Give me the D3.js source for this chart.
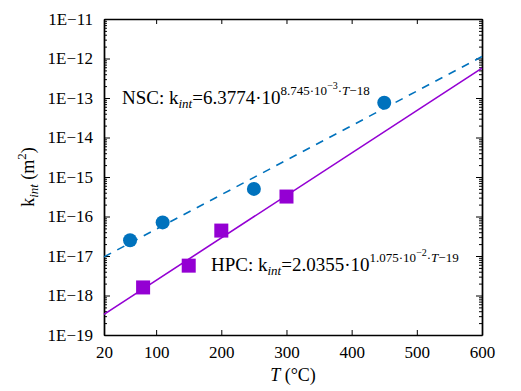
<!DOCTYPE html>
<html>
<head>
<meta charset="utf-8">
<script src="https://cdn.jsdelivr.net/npm/d3@7"></script>
<style>
  body { margin: 0; background: #fff; }
  text { font-family: "Liberation Serif", "DejaVu Serif", serif; fill: #000; }
</style>
</head>
<body>
<div id="chart"></div>
<script>
// Data
var nscTemp = [60, 110, 250, 450];
var nscPerm = [2.5e-17, 7.1e-17, 5.0e-16, 7.6e-14];
var hpcTemp = [80, 150, 200, 300];
var hpcPerm = [1.6e-18, 5.7e-18, 4.4e-17, 3.2e-16];

// fitted lines, end points at T = 20 and T = 600
var fitTemp = [20, 600];
var nscFit = [9.5e-18, 1.12e-12];
var hpcFit = [3.34e-19, 5.7e-13];

var xTicks = [20, 100, 200, 300, 400, 500, 600];
var yTicks = [1e-19, 1e-18, 1e-17, 1e-16, 1e-15, 1e-14, 1e-13, 1e-12, 1e-11];

var svgWidth = 521;
var svgHeight = 391;

var margin = { top: 19, bottom: 56, left: 104, right: 39 };
var width = svgWidth - margin.left - margin.right;
var height = svgHeight - margin.top - margin.bottom;

var blue = "#0072bd";
var purple = "#9400d3";

var svg = d3.select("#chart")
    .append("svg")
    .attr("width", svgWidth)
    .attr("height", svgHeight);

var chartGroup = svg.append("g")
    .attr("transform", `translate(${margin.left}, ${margin.top})`);

var xScale = d3.scaleLinear().domain([20, 600]).range([0, width]);
var yScale = d3.scaleLog().domain([1e-19, 1e-11]).range([height, 0]);

function yLabel(d) {
    return "1E\u2212" + Math.round(-Math.log10(d));
}

// minor log ticks
var minorTicks = [];
yTicks.slice(0, -1).forEach(function (t) {
    for (var m = 2; m <= 9; m++) minorTicks.push(t * m);
});

// axes (ticks point inward)
var bottomAxis = d3.axisBottom(xScale).tickValues(xTicks).tickSizeInner(-5).tickSizeOuter(0).tickPadding(11);
var topAxis = d3.axisTop(xScale).tickValues(xTicks).tickSizeInner(-5).tickSizeOuter(0).tickFormat("");
var leftAxis = d3.axisLeft(yScale).tickValues(yTicks).tickSizeInner(-6).tickSizeOuter(0).tickPadding(11).tickFormat(yLabel);
var rightAxis = d3.axisRight(yScale).tickValues(yTicks).tickSizeInner(-6).tickSizeOuter(0).tickFormat("");
var leftMinor = d3.axisLeft(yScale).tickValues(minorTicks).tickSizeInner(-3).tickSizeOuter(0).tickFormat("");
var rightMinor = d3.axisRight(yScale).tickValues(minorTicks).tickSizeInner(-3).tickSizeOuter(0).tickFormat("");

chartGroup.append("g").attr("transform", `translate(0, ${height})`).call(bottomAxis);
chartGroup.append("g").call(topAxis);
chartGroup.append("g").call(leftAxis);
chartGroup.append("g").attr("transform", `translate(${width}, 0)`).call(rightAxis);
chartGroup.append("g").call(leftMinor);
chartGroup.append("g").attr("transform", `translate(${width}, 0)`).call(rightMinor);

chartGroup.selectAll(".domain").attr("stroke", "#000").attr("stroke-width", 1.4);
chartGroup.selectAll(".tick line").attr("stroke", "#000").attr("stroke-width", 1);
chartGroup.selectAll(".tick text")
    .style("font-family", "'Liberation Serif', serif")
    .style("font-size", "17px")
    .attr("fill", "#000");

// fit lines
var line = d3.line()
    .x(d => xScale(d[0]))
    .y(d => yScale(d[1]));

chartGroup.append("path")
    .datum(fitTemp.map((t, i) => [t, nscFit[i]]))
    .attr("d", line)
    .attr("fill", "none")
    .attr("stroke", blue)
    .attr("stroke-width", 1.6)
    .attr("stroke-dasharray", "8,7");

chartGroup.append("path")
    .datum(fitTemp.map((t, i) => [t, hpcFit[i]]))
    .attr("d", line)
    .attr("fill", "none")
    .attr("stroke", purple)
    .attr("stroke-width", 1.6);

// points
chartGroup.selectAll(".nsc")
    .data(nscTemp)
    .enter()
    .append("circle")
    .attr("cx", d => xScale(d))
    .attr("cy", (d, i) => yScale(nscPerm[i]))
    .attr("r", 7)
    .attr("fill", blue);

var side = 14;
chartGroup.selectAll(".hpc")
    .data(hpcTemp)
    .enter()
    .append("rect")
    .attr("x", d => xScale(d) - side / 2)
    .attr("y", (d, i) => yScale(hpcPerm[i]) - side / 2)
    .attr("width", side)
    .attr("height", side)
    .attr("fill", purple);

// annotations
function equation(x, y, name, coef, slope, slopeExp, offset) {
    var t = svg.append("text")
        .attr("x", x)
        .attr("y", y)
        .style("font-size", "19px");
    t.append("tspan").text(name + ": k");
    t.append("tspan").attr("dy", 4).style("font-size", "13px").style("font-style", "italic").text("int");
    t.append("tspan").attr("dy", -4).text("=" + coef + "\u00b710");
    t.append("tspan").attr("dy", -9).style("font-size", "13px").text(slope + "\u00b710");
    t.append("tspan").attr("dy", -6).style("font-size", "10px").text(slopeExp);
    t.append("tspan").attr("dy", 6).style("font-size", "13px").text("\u00b7");
    t.append("tspan").style("font-size", "13px").style("font-style", "italic").text("T");
    t.append("tspan").style("font-size", "13px").text(offset);
}

equation(122, 104, "NSC", "6.3774", "8.745", "\u22123", "\u221218");
equation(211, 271, "HPC", "2.0355", "1.075", "\u22122", "\u221219");

// axis labels
var xl = svg.append("text")
    .attr("x", margin.left + width / 2)
    .attr("y", 381)
    .attr("text-anchor", "middle")
    .style("font-size", "18px");
xl.append("tspan").style("font-style", "italic").text("T");
xl.append("tspan").text(" (\u00b0C)");

var yl = svg.append("text")
    .attr("transform", `translate(34, ${margin.top + height / 2}) rotate(-90)`)
    .attr("text-anchor", "middle")
    .style("font-size", "18px");
yl.append("tspan").text("k");
yl.append("tspan").attr("dy", 4).style("font-size", "13px").style("font-style", "italic").text("int");
yl.append("tspan").attr("dy", -4).text(" (m");
yl.append("tspan").attr("dy", -8).style("font-size", "13px").text("2");
yl.append("tspan").attr("dy", 8).text(")");
</script>
</body>
</html>
